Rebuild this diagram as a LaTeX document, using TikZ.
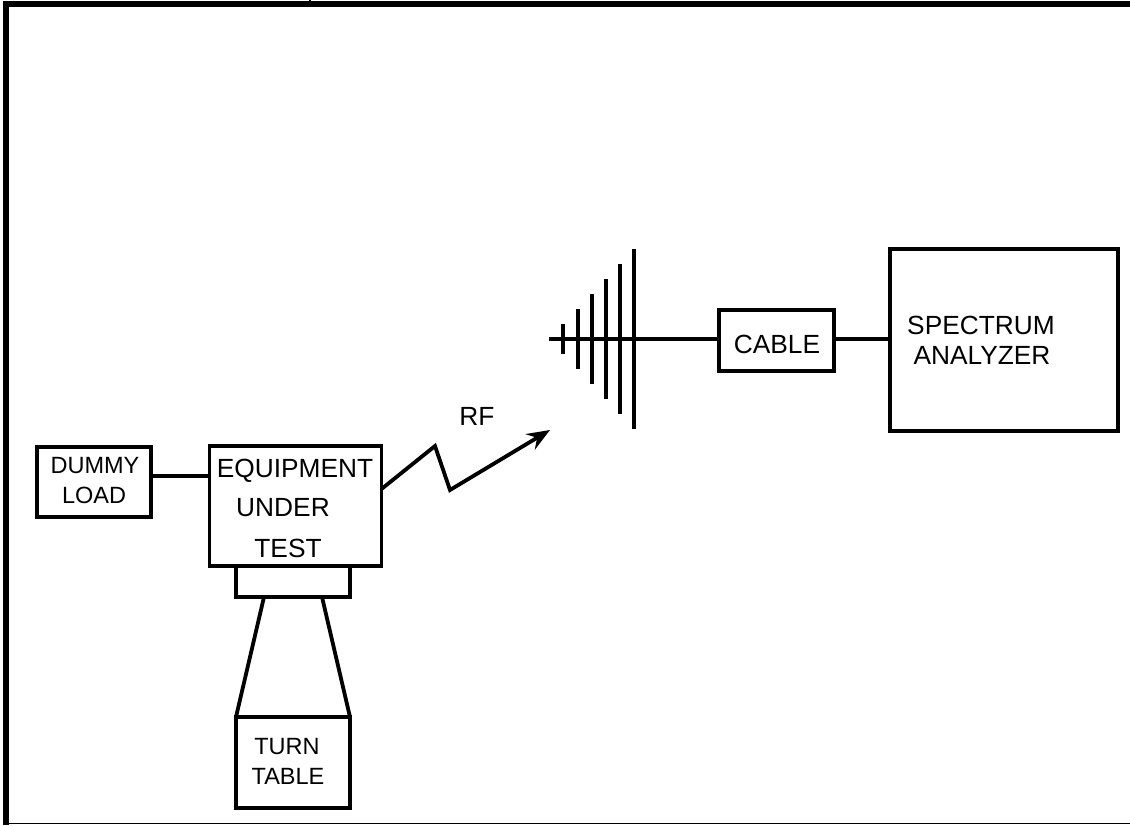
\documentclass[tikz,border=0pt]{standalone}
\usepackage{fontspec}
\setmainfont{Liberation Sans}
\usetikzlibrary{arrows.meta}
\tikzset{
  x=1pt,y=-1pt,
  box/.style={draw=black,line width=3.8pt,fill=white,inner sep=0pt,outer sep=0pt,minimum width=#1},
  wire/.style={draw=black,line width=3.8pt},
  label/.style={anchor=base,inner sep=0pt,font=\fontsize{23.5}{28}\selectfont,text=black},
  biglabel/.style={anchor=base,inner sep=0pt,font=\fontsize{26.3}{30}\selectfont,text=black},
}
\begin{document}
\begin{tikzpicture}
\useasboundingbox (0,0) rectangle (1130,825);
% outer frame
\fill[white] (0,0) rectangle (1130,825);
\draw[black,line width=6pt] (1130,4) -- (5.5,4) -- (5.5,825);
\draw[black,line width=1.5pt] (5,823.5) -- (1130,823.5);
\fill[black] (309,0) rectangle (311,1);
% boxes
\node[box=114pt,minimum height=70pt] (dummy) at (94,482) {};
\node[box=172pt,minimum height=120pt] (eut) at (295.5,506) {};
\node[box=114pt,minimum height=31pt] (mount) at (293,581.5) {};
\node[box=114pt,minimum height=91pt] (turn) at (293,762.5) {};
\node[box=115pt,minimum height=61pt] (cable) at (776.5,340.5) {};
\node[box=228pt,minimum height=182pt] (sa) at (1004,340) {};
% connectors
\draw[wire] (dummy.east |- 0,476) -- (eut.west |- 0,476);
\path (mount.south west) ++(28,0) coordinate (legL) (mount.south east) ++(-28,0) coordinate (legR);
\draw[wire] (legL) -- (turn.north west);
\draw[wire] (legR) -- (turn.north east);
\coordinate (rfA) at (435,446);
\coordinate (rfB) at (450,490);
\coordinate (rfTip) at (550,430);
\draw[wire,line join=miter,-{Stealth[length=23pt,width=18pt,inset=8pt]}] (eut.east |- 0,489) -- (rfA) -- (rfB) -- (rfTip);
% antenna
\coordinate (antTip) at (549,339);
\draw[wire] (antTip) -- (cable.west |- 0,339);
\draw[wire] (cable.east |- 0,339) -- (sa.west |- 0,339);
\foreach \ax/\ah in {563/15,578/30,592/45,606/60,620/75,634/90}{
  \draw[wire] (\ax,339-\ah) -- (\ax,339+\ah);
}
% labels
\node[label] (t1) at (95,473) {DUMMY};
\node[label] (t2) at (94,503) {LOAD};
\node[biglabel] (t3) at (295,477) {EQUIPMENT};
\node[biglabel] (t4) at (283,516) {UNDER};
\node[biglabel] (t5) at (288,557) {TEST};
\node[label] (t6) at (287,754) {TURN};
\node[label] (t7) at (288,784) {TABLE};
\node[biglabel] (t8) at (477,425) {RF};
\node[biglabel] (t9) at (777,353) {CABLE};
\node[biglabel] (t10) at (981,334) {SPECTRUM};
\node[biglabel] (t11) at (982,364) {ANALYZER};
\end{tikzpicture}
\end{document}
